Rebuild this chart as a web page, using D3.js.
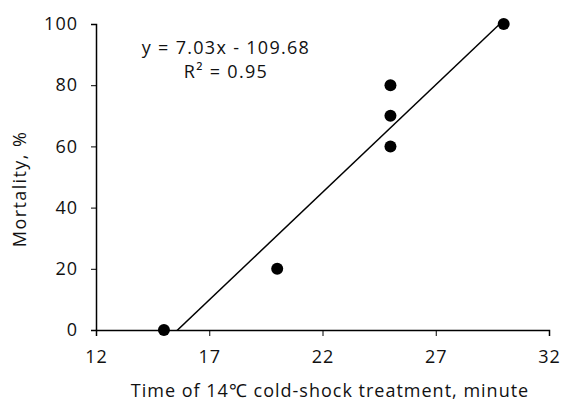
<!DOCTYPE html>
<html>
<head>
<meta charset="utf-8">
<script src="https://cdn.jsdelivr.net/npm/d3@7"></script>
<style>
  body { margin: 0; background: #fff; }
  svg text { font-family: "Open Sans", Lato, sans-serif; fill: #111; }
</style>
</head>
<body>
<svg id="chart" width="561" height="401"></svg>
<script>
// data
var timeMin = [15, 20, 25, 25, 25, 30];
var mortality = [0, 20, 60, 70, 80, 100];
var xTicks = [12, 17, 22, 27, 32];
var yTicks = [0, 20, 40, 60, 80, 100];
var slope = 7.03, intercept = -109.68;
var eqLines = ["y = 7.03x - 109.68", "R\u00b2 = 0.95"];

var svg = d3.select("#chart");
var plotL = 96, plotR = 549, plotT = 24, plotB = 330;
var fontPx = "18px";

var x = d3.scaleLinear().domain([12, 32]).range([plotL, plotR]);
var y = d3.scaleLinear().domain([0, 100]).range([plotB, plotT]);

svg.append("defs").append("clipPath").attr("id", "plot")
  .append("rect")
  .attr("x", plotL).attr("y", plotT - 6)
  .attr("width", plotR - plotL).attr("height", plotB - plotT + 6);

// axes
var xAxis = svg.append("g")
  .attr("transform", "translate(0," + plotB + ")")
  .call(d3.axisBottom(x).tickValues(xTicks).tickSize(6).tickPadding(14));
var yAxis = svg.append("g")
  .attr("transform", "translate(" + plotL + ",0)")
  .call(d3.axisLeft(y).tickValues(yTicks).tickSize(5).tickPadding(13));

[xAxis, yAxis].forEach(function(g){
  g.select(".domain").attr("stroke", "#000").attr("stroke-width", 1.5);
  g.selectAll(".tick line").attr("stroke", "#000").attr("stroke-width", 1);
  g.selectAll(".tick text").style("font-size", fontPx)
    .style("letter-spacing", "1px").attr("fill", "#111");
});

// trendline over the data range
var xs = d3.extent(timeMin);
svg.append("line")
  .attr("clip-path", "url(#plot)")
  .attr("x1", x(xs[0])).attr("y1", y(slope * xs[0] + intercept))
  .attr("x2", x(xs[1])).attr("y2", y(slope * xs[1] + intercept))
  .attr("stroke", "#000").attr("stroke-width", 1.5);

// points
svg.append("g").selectAll("circle")
  .data(timeMin)
  .enter().append("circle")
  .attr("cx", function(d){ return x(d); })
  .attr("cy", function(d, i){ return y(mortality[i]); })
  .attr("r", 6)
  .attr("fill", "#000");

// equation
svg.append("g").selectAll("text")
  .data(eqLines)
  .enter().append("text")
  .attr("x", 226)
  .attr("y", function(d, i){ return 54 + i * 24; })
  .attr("text-anchor", "middle")
  .style("font-size", fontPx)
  .style("letter-spacing", "1.3px")
  .text(function(d){ return d; });

// axis titles
svg.append("text")
  .attr("x", 330)
  .attr("y", 397)
  .attr("text-anchor", "middle")
  .style("font-size", fontPx)
  .style("letter-spacing", "1px")
  .text("Time of 14\u2103 cold-shock treatment, minute");

svg.append("text")
  .attr("transform", "translate(26,189) rotate(-90)")
  .attr("text-anchor", "middle")
  .style("font-size", fontPx)
  .style("letter-spacing", "1.4px")
  .text("Mortality, %");
</script>
</body>
</html>
